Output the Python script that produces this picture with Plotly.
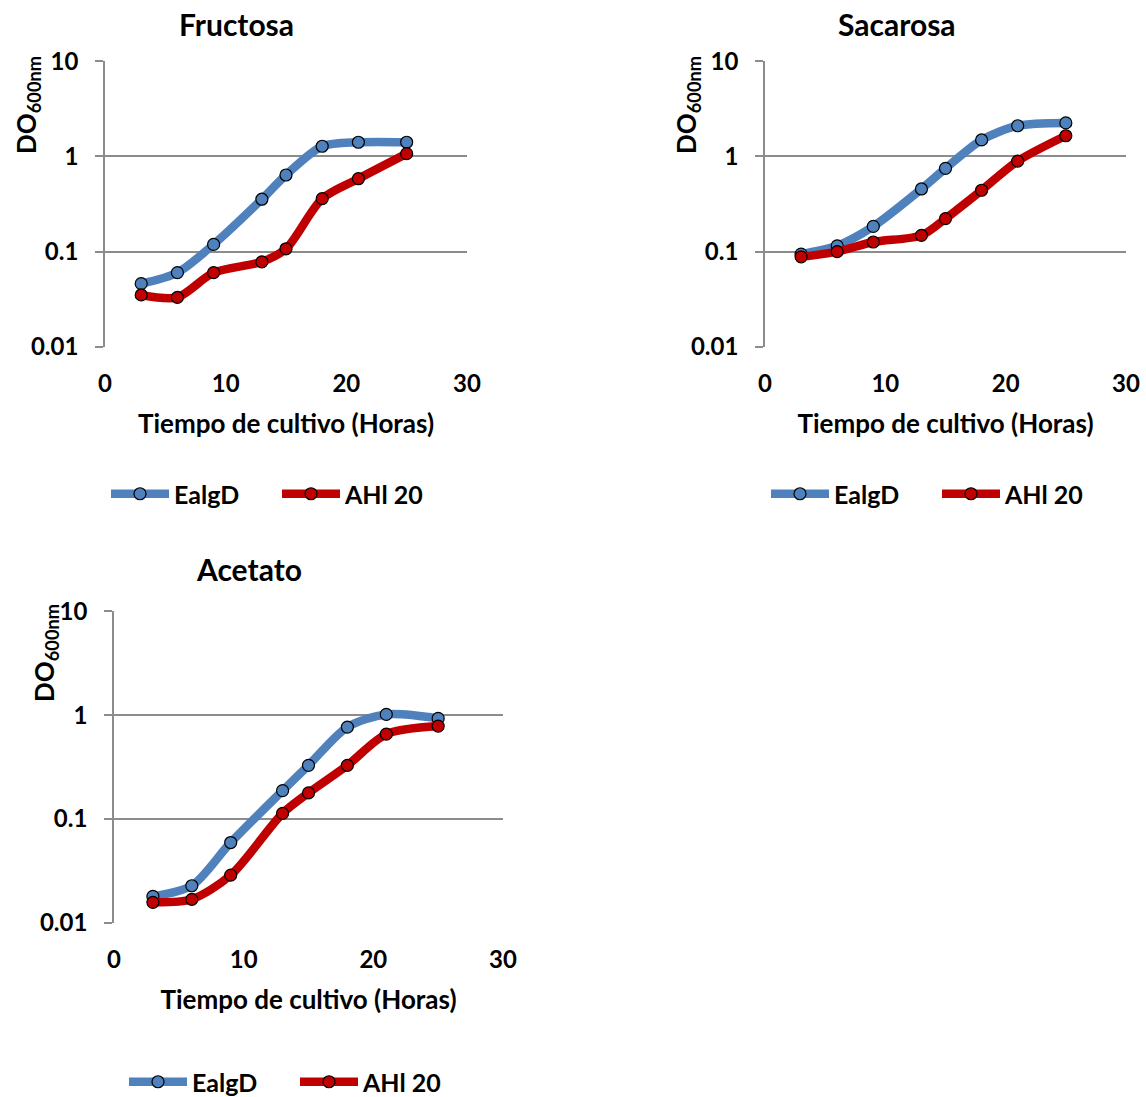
import plotly.graph_objects as go

hours = [3, 6, 9, 13, 15, 18, 21, 25]

fructosa_ealgd = [0.046, 0.060, 0.119, 0.355, 0.638, 1.28, 1.41, 1.41]
fructosa_ahl20 = [0.035, 0.033, 0.060, 0.078, 0.107, 0.360, 0.583, 1.07]

sacarosa_ealgd = [0.094, 0.115, 0.184, 0.455, 0.749, 1.49, 2.10, 2.25]
sacarosa_ahl20 = [0.088, 0.100, 0.126, 0.148, 0.222, 0.441, 0.894, 1.65]

acetato_ealgd = [0.0179, 0.0227, 0.0592, 0.187, 0.328, 0.767, 1.015, 0.929]
acetato_ahl20 = [0.0157, 0.0168, 0.0287, 0.113, 0.178, 0.328, 0.656, 0.784]

titles = ["Fructosa", "Sacarosa", "Acetato"]
series_names = ["EalgD", "AHl 20"]
colors = ["#4F81BD", "#C00000"]
y_ticks = [0.01, 0.1, 1, 10]
y_ticktext = ["0.01", "0.1", "1", "10"]
x_ticks = [0, 10, 20, 30]
x_title = "Tiempo de cultivo (Horas)"
y_title = "DO<sub>600nm</sub>"

FONT = "Lato, 'Open Sans', sans-serif"
W, H = 1146, 1097
GRID = "#8C8C8C"

panels = [
    # data, xaxis, yaxis, legend, plot box (x0, x1, ytop, ybottom), legend (x, y), title pos, y-title pos
    ((fructosa_ealgd, fructosa_ahl20), "x", "y", "legend", (105, 467, 61, 347), (106, 494), (236, 24), (27, 105)),
    ((sacarosa_ealgd, sacarosa_ahl20), "x2", "y2", "legend2", (765, 1126, 61, 347), (766, 494), (897, 24), (687, 105)),
    ((acetato_ealgd, acetato_ahl20), "x3", "y3", "legend3", (114, 503, 611, 923), (124, 1082), (45, 653) if False else (249, 569), (45, 653)),
]

fig = go.Figure()
layout = dict(
    width=W, height=H,
    margin=dict(l=0, r=0, t=0, b=0, autoexpand=False),
    paper_bgcolor="white", plot_bgcolor="white",
    font=dict(family=FONT, color="black", size=24),
    annotations=[],
)

for i, (data, xa, ya, lg, box, lgpos, tpos, ytpos) in enumerate(panels):
    for j, vals in enumerate(data):
        fig.add_trace(go.Scatter(
            x=hours, y=vals, name=series_names[j],
            mode="lines+markers",
            line=dict(color=colors[j], width=8.5, shape="spline", smoothing=0.8),
            marker=dict(size=12, color=colors[j], line=dict(color="black", width=1.2)),
            xaxis=xa, yaxis=ya, legend=lg,
        ))
    x0, x1, yt, yb = box
    xkey = "xaxis" if xa == "x" else "xaxis" + xa[1:]
    ykey = "yaxis" if ya == "y" else "yaxis" + ya[1:]
    layout[xkey] = dict(
        domain=[x0 / W, x1 / W], anchor=ya, range=[0, 30],
        tickvals=x_ticks, showgrid=False, zeroline=False, showline=False,
        ticks="", ticklabelstandoff=20, tickfont=dict(size=24, weight="bold"),
        title=dict(text=x_title, font=dict(size=26, weight="bold"), standoff=18),
        automargin=False,
    )
    layout[ykey] = dict(
        domain=[1 - yb / H, 1 - yt / H], anchor=xa, type="log", range=[-2.003, 1.003],
        tickvals=y_ticks, ticktext=y_ticktext,
        showgrid=True, gridcolor=GRID, gridwidth=1.6,
        showline=True, linecolor=GRID, linewidth=1.6,
        ticks="outside", ticklen=8, tickcolor=GRID, tickwidth=1.6,
        ticklabelstandoff=12,
        zeroline=False, tickfont=dict(size=24, weight="bold"),
        automargin=False,
    )
    layout[lg] = dict(
        x=lgpos[0] / W, y=1 - lgpos[1] / H, xanchor="left", yanchor="middle",
        orientation="h", font=dict(size=25, weight="bold"),
        itemwidth=58, entrywidth=98, bgcolor="rgba(0,0,0,0)",
        traceorder="normal",
    )
    layout["annotations"].append(dict(
        text=titles[i], x=tpos[0] / W, y=1 - tpos[1] / H, xref="paper", yref="paper",
        showarrow=False, xanchor="center", yanchor="middle",
        font=dict(size=30, weight="bold"),
    ))
    layout["annotations"].append(dict(
        text=y_title, x=ytpos[0] / W, y=1 - ytpos[1] / H, xref="paper", yref="paper",
        showarrow=False, xanchor="center", yanchor="middle", textangle=-90,
        font=dict(size=26, weight="bold"),
    ))

fig.update_layout(**layout)
fig.write_html("out.html", config={"displayModeBar": False},
               post_script="document.body.style.margin='0';")
